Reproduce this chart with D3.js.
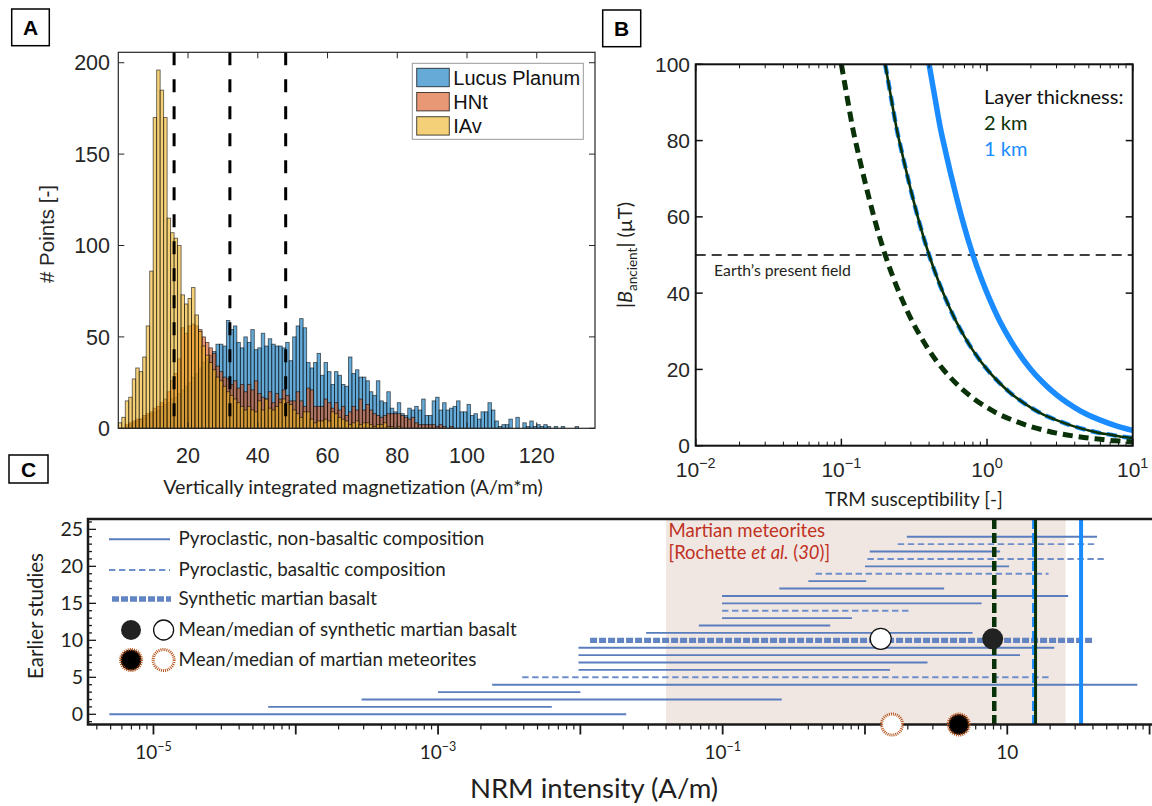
<!DOCTYPE html>
<html>
<head>
<meta charset="utf-8">
<script src="https://cdn.jsdelivr.net/npm/d3@7"></script>
<style>
  body { margin: 0; background: #fff; }
  svg text { font-family: "Liberation Sans", Arial, sans-serif; }
  svg text.my { font-family: Lato, "Open Sans", sans-serif; }
</style>
</head>
<body>
<svg id="fig" width="1152" height="806"></svg>
<script>
// ---------- panel A : histograms, bins of width 1 starting at 0 ----------
const seriesNames = ["Lucus Planum", "HNt", "IAv"];
const seriesColors = ["#0072BD", "#D95319", "#EDB120"];
const lucusCounts = [0,0,1,2,3,4,5,6,7,8, 9,10,12,13,14,16,17,19,21,23, 25,28,30,33,36,38,40,42,
  46,46,45,59,54,56,47,
  44,50,47,54,43,44,52,45,49,46,45,45,44,47,37,50,56,60,55,36,33,36,41,29,36,31,24,31,29,24,23,39,30,32,28,28,26,20,18,26,15,14,20,11,9,14,8,7,11,10,12,10,16,7,
  7,15,17,10,14,10,11,12,15,9, 9,13,7,8,5,9,9,14,10,4, 1,2,2,5,0,6,0,3,1,4, 1,2,1,2,1,0,1,0,1,0,0,0,1];
const hntCounts = [0,0,2,3,4,5,5,7,8,9, 11,12,14,16,20,26,30,38,55,52, 56,57,56,54,50,47,44,41,34,31,
  28,27,24,26,22,
  24,20,24,21,26,19,17,16,20,14,19,16,21,18,15,15,20,15,12,22,21,12,12,12,16,14,11,14,10,12,7,9,12,10,16,10,13,10,8,7,6,7,8,8,8,8,7,6,5,6,3,2,2,2,
  2,2,1,2,1,0,1];
const iavCounts = [3,6,15,17,27,33,31,39,56,86, 170,196,185,170,115,107,104,100,73,68,
  71,77,62,53,45,40,36,32,28,26, 23,20,18,16,14,12,10,12,10,9,
  15,10,16,11,10,12,14,16,14,13, 10,8,6,9,9,5,3,4,4,5,
  4,9,8,6,5,4,2,3,4,2, 3,3,2,1,2,2,3,1,1,0,1];
const thresholdLines = [16, 32, 48];
const histXTicks = [20, 40, 60, 80, 100, 120];
const histYTicks = [0, 50, 100, 150, 200];

// ---------- panel B : field vs TRM susceptibility ----------
const chiDashGreen = [0.1,0.11,0.12,0.13,0.15,0.17,0.2,0.23,0.26,0.3,0.35,0.4,0.5,0.6,0.7,0.8,1,1.2,1.5,2,2.5,3,4,5,6,7,8,10];
const bDashGreen   = [100,91,83,77,67,59,50,43.5,38.5,33.3,28.6,25,20,16.7,14.3,12.5,10,8.3,6.7,5,4,3.3,2.5,2,1.7,1.4,1.25,1];
const chiSolidGreen = [0.2,0.22,0.24,0.26,0.3,0.34,0.4,0.46,0.52,0.6,0.7,0.8,1,1.2,1.4,1.6,2,2.4,3,4,5,6,7,8,10];
const bSolidGreen   = [100,91,83,77,67,59,50,43.5,38.5,33.3,28.6,25,20,16.7,14.3,12.5,10,8.3,6.7,5,4,3.3,2.9,2.5,2];
const chiSolidBlue = [0.4,0.44,0.48,0.52,0.6,0.68,0.8,0.92,1.04,1.2,1.4,1.6,2,2.4,2.8,3.2,4,4.8,6,8,10];
const bSolidBlue   = [100,91,83,77,67,59,50,43.5,38.5,33.3,28.6,25,20,16.7,14.3,12.5,10,8.3,6.7,5,4];
const earthField = 50;
const fieldYTicks = [0, 20, 40, 60, 80, 100];
const chiDecades = [0.01, 0.1, 1, 10];
const chiDecadeExp = ["\u22122", "\u22121", "0", "1"];

// ---------- panel C : NRM intensity of earlier studies ----------
const studyLow  = [4.9e-6,6.4e-5,2.9e-4,1.0e-3,2.4e-3,3.9e-3,9.7e-3,9.7e-3,9.7e-3,9.7e-3,0.0117,0.029,0.068,0.099,0.099,0.099,0.099,0.25,0.40,0.45,1.0,1.04,1.08,1.7,1.97];
const studyHigh = [0.021,6.3e-3,0.26,0.010,82,20,1.5,2.75,12.3,21.4,40.8,5.7,0.57,0.81,2.05,6.6,26.8,3.6,1.02,19.5,10.3,50,8.9,40.8,42.7];
const studyKind = ["solid","solid","solid","solid","solid","dashed","solid","solid","solid","solid","thick","solid","solid","solid","dashed","solid","solid","solid","solid","dashed","solid","dashed","solid","dashed","solid"];
const synthMean = 7.9, synthMedian = 1.29, synthRow = 10.2;
const meteoriteMean = 4.56, meteoriteMedian = 1.55;
const meteoriteRange = [0.04, 25.7];
const fieldLines = [
  { v: 8.1,  color: "#0a3209", width: 4.5, dash: "10,4" },
  { v: 15.3, color: "#1a8cff", width: 3,   dash: "10,4" },
  { v: 15.8, color: "#0a3209", width: 3,   dash: null },
  { v: 33,   color: "#1a8cff", width: 4,   dash: null }
];
const nrmLabelExp = [-5, -3, -1, 1];
const studyYTicks = [0, 5, 10, 15, 20, 25];
const legendC = ["Pyroclastic, non-basaltic composition", "Pyroclastic, basaltic composition",
  "Synthetic martian basalt", "Mean/median of synthetic martian basalt", "Mean/median of martian meteorites"];

const ink = "#262626", myInk = "#231f20";
const lineBlue = "#5a7dbd", dashBlue = "#6f8fcc", thickBlue = "#6384c2";
const meteorBrown = "#b5541c";

const svg = d3.select("#fig");
svg.append("rect").attr("width", 1152).attr("height", 806).attr("fill", "#fff");

function panelTag(x, y, w, h, t) {
  svg.append("rect").attr("x", x).attr("y", y).attr("width", w).attr("height", h)
    .attr("fill", "#fff").attr("stroke", "#000").attr("stroke-width", 1.5);
  svg.append("text").attr("x", x + w / 2).attr("y", y + h / 2 + 7.5)
    .attr("text-anchor", "middle").attr("font-weight", "bold").attr("font-size", 21).text(t);
}
panelTag(11.7, 9, 37.6, 36.7, "A");
panelTag(602.7, 10, 38, 36.7, "B");
panelTag(9, 455, 39, 28, "C");

// ================= A =================
const ax = d3.scaleLinear().domain([0, 136.7]).range([118.3, 595]);
const ay = d3.scaleLinear().domain([0, 205.7]).range([428.3, 52.3]);
const gA = svg.append("g");
const countsList = [lucusCounts, hntCounts, iavCounts];
countsList.forEach((counts, s) => {
  gA.append("g").selectAll("rect").data(counts.map((c, i) => ({ c, i })).filter(d => d.c > 0))
    .join("rect")
    .attr("x", d => ax(d.i)).attr("width", d => ax(d.i + 1) - ax(d.i))
    .attr("y", d => ay(d.c)).attr("height", d => ay(0) - ay(d.c))
    .attr("fill", seriesColors[s]).attr("fill-opacity", 0.6)
    .attr("stroke", "#000").attr("stroke-opacity", 0.6).attr("stroke-width", 0.9);
});
gA.selectAll("line.thr").data(thresholdLines).join("line").attr("class", "thr")
  .attr("x1", d => ax(d)).attr("x2", d => ax(d)).attr("y1", ay.range()[1]).attr("y2", ay(0))
  .attr("stroke", "#000").attr("stroke-width", 3).attr("stroke-dasharray", "13,14");

gA.append("rect").attr("x", 118.3).attr("y", 52.3).attr("width", 595 - 118.3).attr("height", 428.3 - 52.3)
  .attr("fill", "none").attr("stroke", ink).attr("stroke-width", 1.2);
histXTicks.forEach(v => {
  gA.append("line").attr("x1", ax(v)).attr("x2", ax(v)).attr("y1", 428.3).attr("y2", 422.3).attr("stroke", ink);
  gA.append("line").attr("x1", ax(v)).attr("x2", ax(v)).attr("y1", 52.3).attr("y2", 58.3).attr("stroke", ink);
  gA.append("text").attr("x", ax(v)).attr("y", 463).attr("text-anchor", "middle")
    .attr("font-size", 21.5).attr("fill", ink).text(v);
});
histYTicks.forEach(v => {
  gA.append("line").attr("x1", 118.3).attr("x2", 124.3).attr("y1", ay(v)).attr("y2", ay(v)).attr("stroke", ink);
  gA.append("line").attr("x1", 595).attr("x2", 589).attr("y1", ay(v)).attr("y2", ay(v)).attr("stroke", ink);
  gA.append("text").attr("x", 110).attr("y", ay(v) + 7.7).attr("text-anchor", "end")
    .attr("font-size", 21.5).attr("fill", ink).text(v);
});
gA.append("text").attr("transform", "translate(54,234) rotate(-90)").attr("text-anchor", "middle")
  .attr("font-size", 20.5).attr("fill", ink).text("# Points [-]");
gA.append("text").attr("class", "my").attr("x", 353).attr("y", 494).attr("text-anchor", "middle")
  .attr("font-size", 19.8).attr("fill", myInk).text("Vertically integrated magnetization (A/m*m)");

// legend A
gA.append("rect").attr("x", 412.3).attr("y", 63.3).attr("width", 171).attr("height", 76)
  .attr("fill", "#fff").attr("stroke", "#999").attr("stroke-width", 1);
seriesNames.forEach((n, i) => {
  const y0 = 68.3 + i * 24.2;
  gA.append("rect").attr("x", 416.7).attr("y", y0).attr("width", 32.6).attr("height", 18.4)
    .attr("fill", seriesColors[i]).attr("fill-opacity", 0.6)
    .attr("stroke", "#000").attr("stroke-opacity", 0.7);
  gA.append("text").attr("x", 453.3).attr("y", y0 + 16.5).attr("font-size", 20).attr("fill", "#111").text(n);
});

// ================= B =================
const bx = d3.scaleLog().domain([0.01, 10]).range([695.7, 1132.7]);
const by = d3.scaleLinear().domain([0, 100]).range([445.7, 64.3]);
const gB = svg.append("g");
svg.append("clipPath").attr("id", "clipB").append("rect")
  .attr("x", 695.7).attr("y", 64.3).attr("width", 437).attr("height", 381.4);
const curve = d3.line().x(d => bx(d[0])).y(d => by(d[1])).curve(d3.curveMonotoneX);
const plotB = gB.append("g").attr("clip-path", "url(#clipB)");
plotB.append("line").attr("x1", 695.7).attr("x2", 1132.7).attr("y1", by(earthField)).attr("y2", by(earthField))
  .attr("stroke", "#000").attr("stroke-width", 1.5).attr("stroke-dasharray", "10,6");
plotB.append("path").attr("d", curve(d3.zip(chiSolidBlue, bSolidBlue)))
  .attr("fill", "none").attr("stroke", "#1a8cff").attr("stroke-width", 5.5);
plotB.append("path").attr("d", curve(d3.zip(chiSolidGreen, bSolidGreen)))
  .attr("fill", "none").attr("stroke", "#1a8cff").attr("stroke-width", 4.5).attr("stroke-dasharray", "10,6");
plotB.append("path").attr("d", curve(d3.zip(chiSolidGreen, bSolidGreen)))
  .attr("fill", "none").attr("stroke", "#0a3209").attr("stroke-width", 2.6);
plotB.append("path").attr("d", curve(d3.zip(chiDashGreen, bDashGreen)))
  .attr("fill", "none").attr("stroke", "#0a3209").attr("stroke-width", 5).attr("stroke-dasharray", "10,6");

gB.append("rect").attr("x", 695.7).attr("y", 64.3).attr("width", 437).attr("height", 381.4)
  .attr("fill", "none").attr("stroke", "#111").attr("stroke-width", 2);
const chiMinor = [];
[0.01, 0.1, 1].forEach(d => { for (let m = 2; m <= 9; m++) chiMinor.push(d * m); });
chiMinor.forEach(v => {
  gB.append("line").attr("x1", bx(v)).attr("x2", bx(v)).attr("y1", 445.7).attr("y2", 441.7).attr("stroke", "#111");
  gB.append("line").attr("x1", bx(v)).attr("x2", bx(v)).attr("y1", 64.3).attr("y2", 68.3).attr("stroke", "#111");
});
chiDecades.forEach((v, i) => {
  gB.append("line").attr("x1", bx(v)).attr("x2", bx(v)).attr("y1", 445.7).attr("y2", 438.7).attr("stroke", "#111").attr("stroke-width", 1.5);
  gB.append("line").attr("x1", bx(v)).attr("x2", bx(v)).attr("y1", 64.3).attr("y2", 71.3).attr("stroke", "#111").attr("stroke-width", 1.5);
  const t = gB.append("text").attr("x", bx(v)).attr("y", 477).attr("text-anchor", "middle")
    .attr("font-size", 21).attr("fill", ink);
  t.append("tspan").text("10");
  t.append("tspan").attr("dy", -9).attr("font-size", 14.5).text(chiDecadeExp[i]);
});
fieldYTicks.forEach(v => {
  gB.append("line").attr("x1", 695.7).attr("x2", 702.7).attr("y1", by(v)).attr("y2", by(v)).attr("stroke", "#111").attr("stroke-width", 1.5);
  gB.append("line").attr("x1", 1132.7).attr("x2", 1125.7).attr("y1", by(v)).attr("y2", by(v)).attr("stroke", "#111").attr("stroke-width", 1.5);
  gB.append("text").attr("x", 690).attr("y", by(v) + 7.5).attr("text-anchor", "end")
    .attr("font-size", 21).attr("fill", ink).text(v);
});
const yl = gB.append("text").attr("class", "my").attr("transform", "translate(632,255) rotate(-90)")
  .attr("text-anchor", "middle").attr("font-size", 20).attr("fill", myInk);
yl.append("tspan").text("|");
yl.append("tspan").attr("font-style", "italic").text("B");
yl.append("tspan").attr("dy", 5).attr("font-size", 13.5).text("ancient");
yl.append("tspan").attr("dy", -5).text("| (\u00b5T)");
gB.append("text").attr("class", "my").attr("x", 914).attr("y", 506).attr("text-anchor", "middle")
  .attr("font-size", 19).attr("fill", myInk).text("TRM susceptibility [-]");
gB.append("text").attr("class", "my").attr("x", 714).attr("y", 276).attr("font-size", 15.8)
  .attr("fill", myInk).text("Earth\u2019s present field");
gB.append("text").attr("class", "my").attr("x", 984).attr("y", 104).attr("font-size", 20).attr("fill", "#111").text("Layer thickness:");
gB.append("text").attr("class", "my").attr("x", 984).attr("y", 130).attr("font-size", 20).attr("fill", "#0a3209").text("2 km");
gB.append("text").attr("class", "my").attr("x", 984).attr("y", 155.5).attr("font-size", 20).attr("fill", "#1a8cff").text("1 km");

// ================= C =================
const cx = d3.scaleLog().domain([Math.pow(10, -5.46), Math.pow(10, 2.017)]).range([88, 1152]);
const cy = d3.scaleLinear().domain([-1.38, 26.4]).range([724.5, 519]);
const gC = svg.append("g");
gC.append("rect").attr("x", cx(meteoriteRange[0])).attr("y", 519)
  .attr("width", cx(meteoriteRange[1]) - cx(meteoriteRange[0])).attr("height", 724.5 - 519)
  .attr("fill", "#f1e7e2");
const martian = gC.append("text").attr("class", "my").attr("x", cx(meteoriteRange[0]) + 2.5)
  .attr("font-size", 18.6).attr("fill", "#c0311f");
martian.append("tspan").attr("y", 536.5).text("Martian meteorites");
const roch = gC.append("text").attr("class", "my").attr("x", cx(meteoriteRange[0]) + 2.5)
  .attr("y", 558.5).attr("font-size", 18.4).attr("fill", "#c0311f");
roch.append("tspan").text("[Rochette ");
roch.append("tspan").attr("font-style", "italic").text("et al.");
roch.append("tspan").text(" (");
roch.append("tspan").attr("font-style", "italic").text("30");
roch.append("tspan").text(")]");

function styleStudy(sel, kind) {
  if (kind === "solid") sel.attr("stroke", lineBlue).attr("stroke-width", 1.9);
  else if (kind === "dashed") sel.attr("stroke", dashBlue).attr("stroke-width", 1.9).attr("stroke-dasharray", "6.4,3.6");
  else sel.attr("stroke", thickBlue).attr("stroke-width", 5.3).attr("stroke-dasharray", "7,2");
  return sel;
}
studyLow.forEach((lo, i) => {
  styleStudy(gC.append("line").attr("x1", cx(lo)).attr("x2", cx(studyHigh[i]))
    .attr("y1", cy(i)).attr("y2", cy(i)), studyKind[i]);
});
fieldLines.forEach(f => {
  const l = gC.append("line").attr("x1", cx(f.v)).attr("x2", cx(f.v)).attr("y1", 519).attr("y2", 724.5)
    .attr("stroke", f.color).attr("stroke-width", f.width);
  if (f.dash) l.attr("stroke-dasharray", f.dash);
});
gC.append("circle").attr("cx", cx(synthMedian)).attr("cy", cy(synthRow)).attr("r", 10.5)
  .attr("fill", "#fff").attr("stroke", "#111").attr("stroke-width", 1.3);
gC.append("circle").attr("cx", cx(synthMean)).attr("cy", cy(synthRow)).attr("r", 10.5).attr("fill", "#222");

// axes C
gC.append("path").attr("d", `M1152,519H88V724.5H1152`).attr("fill", "none")
  .attr("stroke", "#1a1a1a").attr("stroke-width", 2.5);
for (let v = -1; v <= 26; v++) {
  const major = v % 5 === 0;
  gC.append("line").attr("x1", 88).attr("x2", 88 + (major ? 8 : 4)).attr("y1", cy(v)).attr("y2", cy(v))
    .attr("stroke", "#1a1a1a").attr("stroke-width", 1.3);
}
studyYTicks.forEach(v => {
  gC.append("text").attr("class", "my").attr("x", 83).attr("y", cy(v) + 7)
    .attr("text-anchor", "end").attr("font-size", 19.5).attr("fill", myInk).text(v);
});
for (let e = -6; e <= 2; e++) {
  for (let m = 1; m <= 9; m++) {
    const v = m * Math.pow(10, e);
    const px = cx(v);
    if (px < 89 || px > 1152) continue;
    gC.append("line").attr("x1", px).attr("x2", px).attr("y1", 724.5).attr("y2", 724.5 + (m === 1 ? 10 : 5))
      .attr("stroke", "#1a1a1a").attr("stroke-width", m === 1 ? 1.8 : 1.2);
  }
}
nrmLabelExp.forEach(e => {
  const t = gC.append("text").attr("class", "my").attr("x", cx(Math.pow(10, e))).attr("y", 759)
    .attr("text-anchor", "middle").attr("font-size", 19).attr("fill", myInk);
  t.append("tspan").text("10");
  if (e !== 1) t.append("tspan").attr("dy", -8).attr("font-size", 12.5).text("\u2212" + Math.abs(e));
});
gC.append("text").attr("class", "my").attr("x", 594).attr("y", 798).attr("text-anchor", "middle")
  .attr("font-size", 27.5).attr("fill", myInk).text("NRM intensity (A/m)");
gC.append("text").attr("class", "my").attr("transform", "translate(43,616) rotate(-90)")
  .attr("text-anchor", "middle").attr("font-size", 20.5).attr("fill", myInk).text("Earlier studies");

// meteorite markers sit on the bottom axis
function meteorMarker(g, x, y, filled) {
  g.append("circle").attr("cx", x).attr("cy", y).attr("r", 10.5)
    .attr("fill", filled ? "#000" : "#fff").attr("stroke", meteorBrown)
    .attr("stroke-width", 3).attr("stroke-dasharray", "1,1");
}
meteorMarker(gC, cx(meteoriteMedian), 724.5, false);
meteorMarker(gC, cx(meteoriteMean), 724.5, true);

// legend C
const legRows = [539.3, 570, 599, 630, 660];
styleStudy(gC.append("line").attr("x1", 109).attr("x2", 170).attr("y1", legRows[0]).attr("y2", legRows[0]), "solid");
styleStudy(gC.append("line").attr("x1", 109).attr("x2", 170).attr("y1", legRows[1]).attr("y2", legRows[1]), "dashed");
styleStudy(gC.append("line").attr("x1", 112).attr("x2", 171).attr("y1", legRows[2]).attr("y2", legRows[2]), "thick");
gC.append("circle").attr("cx", 131).attr("cy", legRows[3]).attr("r", 10).attr("fill", "#222");
gC.append("circle").attr("cx", 163.6).attr("cy", legRows[3]).attr("r", 10).attr("fill", "#fff").attr("stroke", "#111").attr("stroke-width", 1.3);
meteorMarker(gC, 131, legRows[4], true);
meteorMarker(gC, 163.6, legRows[4], false);
legendC.forEach((t, i) => {
  gC.append("text").attr("class", "my").attr("x", 178.6).attr("y", legRows[i] + 6)
    .attr("font-size", 18.8).attr("fill", myInk).text(t);
});
</script>
</body>
</html>
